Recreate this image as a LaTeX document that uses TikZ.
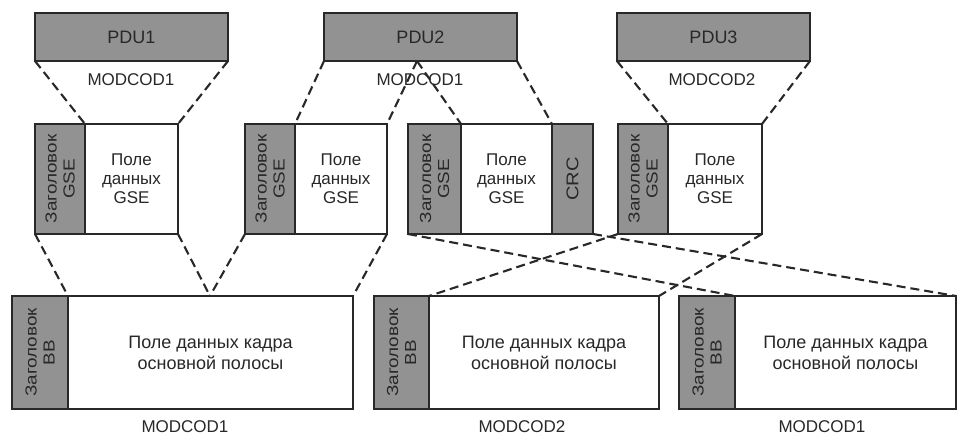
\documentclass[tikz,border=0pt]{standalone}
\usepackage{fontspec}
\setmainfont{Liberation Sans}
\definecolor{boxgray}{RGB}{146,146,146}
\definecolor{edge}{RGB}{40,40,40}
\definecolor{txt}{RGB}{40,40,40}
\newcommand{\fs}[2]{\fontsize{#1}{#2}\selectfont}
\newcommand{\wide}[1]{\scalebox{1.18}[1]{#1}}
\begin{document}
\begin{tikzpicture}[x=1pt,y=-1pt,
  blk/.style={draw=edge, line width=2.2pt, inner sep=0pt, outer sep=0pt, anchor=north west, text=txt},
  grayblk/.style={blk, fill=boxgray},
  whiteblk/.style={blk, fill=white},
  conn/.style={draw=edge, line width=2.1pt, dash pattern=on 9pt off 5pt},
  lbl/.style={text=txt, font=\fs{17}{20}, inner sep=0pt}
]
\useasboundingbox (0,0) rectangle (959,437);
\fill[white] (0,0) rectangle (959,437);

% PDUs
\node[grayblk, minimum width=193pt, minimum height=48pt, font=\fs{18}{20}] (pdu1) at (35,13) {PDU1};
\node[grayblk, minimum width=193pt, minimum height=48pt, font=\fs{18}{20}] (pdu2) at (324,13) {PDU2};
\node[grayblk, minimum width=193pt, minimum height=48pt, font=\fs{18}{20}] (pdu3) at (617,13) {PDU3};

\node[lbl] (m1) at (131,80) {MODCOD1};
\node[lbl] (m2) at (420,80) {MODCOD1};
\node[lbl] (m3) at (712,80) {MODCOD2};

% GSE packets
\node[grayblk, minimum width=50pt, minimum height=110pt] (h1) at (35,124) {};
\node[rotate=90, align=center, text=txt, font=\fs{16}{18}] (h1t) at (h1.center) {\wide{Заголовок}\\\wide{GSE}};
\node[whiteblk, minimum width=93pt, minimum height=110pt, align=center, font=\fs{17}{19}] (d1) at (85,124) {Поле\\данных\\GSE};

\node[grayblk, minimum width=50pt, minimum height=110pt] (h2) at (245,124) {};
\node[rotate=90, align=center, text=txt, font=\fs{16}{18}] (h2t) at (h2.center) {\wide{Заголовок}\\\wide{GSE}};
\node[whiteblk, minimum width=92pt, minimum height=110pt, align=center, font=\fs{17}{19}] (d2) at (295,124) {Поле\\данных\\GSE};

\node[grayblk, minimum width=53pt, minimum height=110pt] (h3) at (408,124) {};
\node[rotate=90, align=center, text=txt, font=\fs{16}{18}] (h3t) at (h3.center) {\wide{Заголовок}\\\wide{GSE}};
\node[whiteblk, minimum width=91pt, minimum height=110pt, align=center, font=\fs{17}{19}] (d3) at (461,124) {Поле\\данных\\GSE};
\node[grayblk, minimum width=41pt, minimum height=110pt] (crc) at (552,124) {};
\node[rotate=90, text=txt, font=\fs{17}{19}] (crct) at (crc.center) {\wide{CRC}};

\node[grayblk, minimum width=50pt, minimum height=110pt] (h4) at (618,124) {};
\node[rotate=90, align=center, text=txt, font=\fs{16}{18}] (h4t) at (h4.center) {\wide{Заголовок}\\\wide{GSE}};
\node[whiteblk, minimum width=94pt, minimum height=110pt, align=center, font=\fs{17}{19}] (d4) at (668,124) {Поле\\данных\\GSE};

% BB frames
\node[grayblk, minimum width=56pt, minimum height=113pt] (b1) at (12,296) {};
\node[rotate=90, align=center, text=txt, font=\fs{16}{18}] (b1t) at (b1.center) {\wide{Заголовок}\\\wide{BB}};
\node[whiteblk, minimum width=285pt, minimum height=113pt, align=center, font=\fs{18}{21}] (f1) at (68,296) {Поле данных кадра\\основной полосы};

\node[grayblk, minimum width=55pt, minimum height=113pt] (b2) at (374,296) {};
\node[rotate=90, align=center, text=txt, font=\fs{16}{18}] (b2t) at (b2.center) {\wide{Заголовок}\\\wide{BB}};
\node[whiteblk, minimum width=230pt, minimum height=113pt, align=center, font=\fs{18}{21}] (f2) at (429,296) {Поле данных кадра\\основной полосы};

\node[grayblk, minimum width=56pt, minimum height=113pt] (b3) at (679,296) {};
\node[rotate=90, align=center, text=txt, font=\fs{16}{18}] (b3t) at (b3.center) {\wide{Заголовок}\\\wide{BB}};
\node[whiteblk, minimum width=221pt, minimum height=113pt, align=center, font=\fs{18}{21}] (f3) at (735,296) {Поле данных кадра\\основной полосы};

\node[lbl] (m4) at (185,427) {MODCOD1};
\node[lbl] (m5) at (522,427) {MODCOD2};
\node[lbl] (m6) at (822,427) {MODCOD1};

% split points
\coordinate (s2) at (417,61);
\coordinate (s1) at (210,296);

% connectors PDU -> GSE
\draw[conn] (pdu1.south west) -- (d1.north west);
\draw[conn] (pdu1.south east) -- (d1.north east);
\draw[conn] (pdu2.south west) -- (d2.north west);
\draw[conn] (s2) -- (d2.north east);
\draw[conn] (s2) -- (d3.north west);
\draw[conn] (pdu2.south east) -- (d3.north east);
\draw[conn] (pdu3.south west) -- (d4.north west);
\draw[conn] (pdu3.south east) -- (d4.north east);

% connectors GSE -> BB
\draw[conn] (h1.south west) -- (f1.north west);
\draw[conn] (d1.south east) -- (s1);
\draw[conn] (h2.south west) -- (s1);
\draw[conn] (d2.south east) -- (f1.north east);
\draw[conn] (h3.south west) -- (f3.north west);
\draw[conn] (crc.south east) -- (f3.north east);
\draw[conn] (h4.south west) -- (f2.north west);
\draw[conn] (d4.south east) -- (f2.north east);
\end{tikzpicture}
\end{document}
